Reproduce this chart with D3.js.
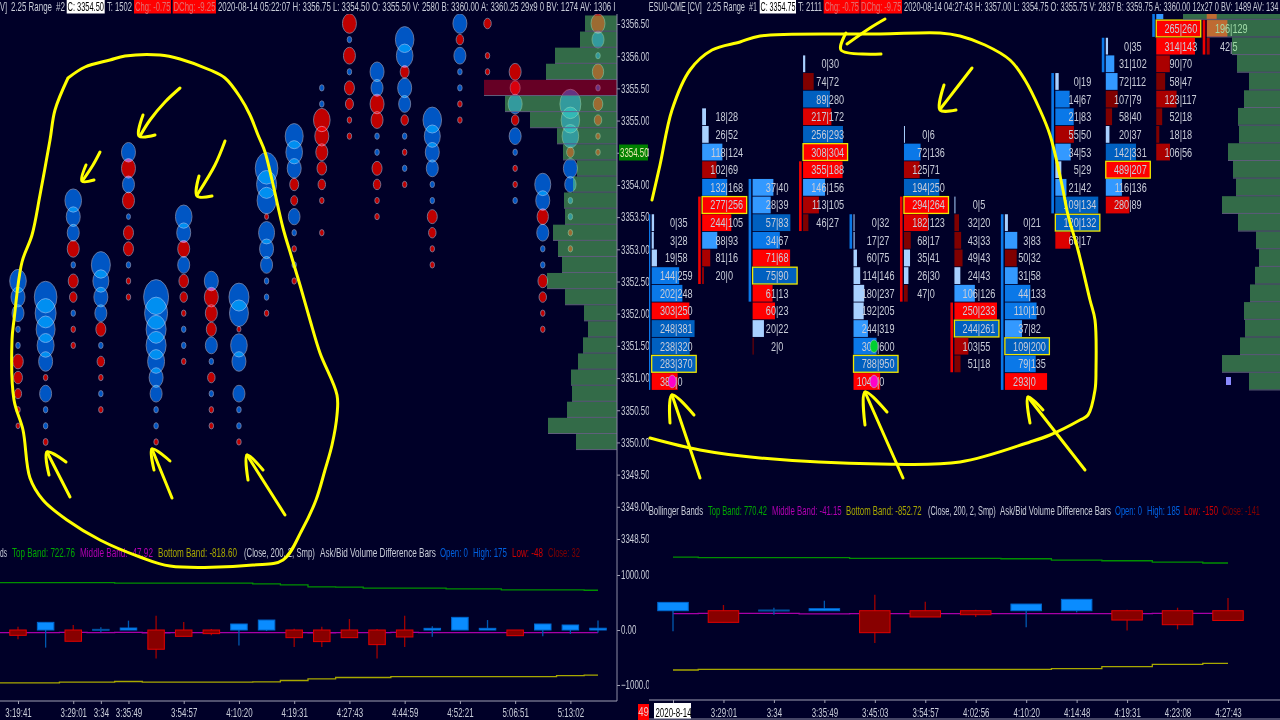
<!DOCTYPE html>
<html><head><meta charset="utf-8">
<script src="https://cdnjs.cloudflare.com/ajax/libs/d3/7.8.5/d3.min.js"></script>
<style>
html,body{margin:0;padding:0;background:#000028;overflow:hidden}
svg{display:block;filter:blur(.3px)}
text{font-family:"Liberation Sans",sans-serif;font-size:12px}
</style></head><body>
<script>
// ---------- LEFT PANEL DATA ----------
const leftColumns=[0,1,2,3,4,5,6,7,8,9,10,11,12,13,14,15,16,17,18,19,20,21];
const leftTickCols=[0,2,3,4,6,8,10,12,14,16,18,20];
const leftTickLabels=["3:19:41","3:29:01","3:34","3:35:49","3:54:57","4:10:20","4:19:31","4:27:43","4:44:59","4:52:21","5:06:51","5:13:02"];
const priceLabels=[3356.5,3356,3355.5,3355,3354.5,3354,3353.5,3353,3352.5,3352,3351.5,3351,3350.5,3350,3349.5,3349,3348.5];
// highest price of each bubble column, then signed volumes going down one 0.25 tick at a time (+ask blue, -bid red)
const bubbleTop=[3352.5,3352.25,3353.75,3352.75,3354.5,3352.25,3353.5,3352.5,3352.25,3354.25,3354.75,3355.5,3356.5,3355.75,3356.25,3355,3356.5,3356.5,3355.75,3354,3355.25,3356.5];
const bubbleVols=[
[69,49,36,5,5,-28,-20,-13,-5,-4],
[128,110,90,72,49,-5,36,5,5,-6],
[69,49,36,-36,5,-25,-14,5,-5,-5],
[90,64,49,36,-25,5,-14,-5,5,-5],
[49,-49,36,-36,4,-25,-25,5,-5,-5],
[156,132,100,100,72,49,36,5,5,-5],
[69,49,-36,36,-23,-14,-5,5,5,-5],
[49,-49,-36,-25,36,5,-14,5,-5,-5],
[100,90,-4,69,49,0,36,5,5,-5],
[128,100,90,-4,64,49,36,5,5,-5],
[81,69,49,-20,-12,34,5,-5,5,-5],
[5,5,-69,-49,-36,-23,-14,-5,0,-5],
[-49,5,-36,5,-25,-16,-5,-5],
[49,36,-49,-36,5,5,-25,-14,-5,-5],
[86,69,-20,49,36,-14,5,-5,5,-5],
[86,64,49,36,5,5,-25,-14,-5,-5],
[49,-14,36,5,5,-5,-5],
[-14,0,-5,-5],
[-36,-25,49,-14,36,5,-5,-5,5],
[64,49,-32,36,5,5,-23,-14,-5,-5],
[110,86,69,-14,49,32,5,5,-5,-5],
[-49,36,5,-32,5,-23,-14,-5,-5]];
// volume profile, top row at 3356.50 going down
const leftProfile=[32,37,62,71,133,112,87,60,54,40,44,53,52,64,59,55,70,52,33,29,34,39,46,45,50,69,41];
const leftProfilePoc=3355.5;
const leftClose=[-97,139,-205,12,36,-350,-115,-66,109,181,-139,-211,-139,-266,-127,30,230,30,-103,109,91,32];
const leftHigh=[60,139,90,48,170,260,145,18,109,181,24,60,199,18,260,66,230,181,0,109,91,175];
const leftLow=[-170,-320,-205,-42,0,-520,-115,-97,-284,-18,-308,-308,-139,-520,-308,-121,0,0,-103,-115,-72,-48];
// band values from one column before the first bar
const leftBandCols=[-1].concat(leftColumns);
const leftTop=[863,863,863,863,863,851,851,851,851,851,839,821,785,779,761,761,761,749,749,731,731,731,723];
const leftMid=[-48,-48,-48,-44,-46,-44,-50,-48,-46,-46,-48,-46,-50,-46,-48,-44,-48,-48,-48,-48,-48,-48,-48];
const leftBot=[-960,-960,-960,-948,-948,-936,-948,-948,-948,-948,-942,-918,-888,-864,-864,-846,-846,-846,-846,-846,-846,-828,-819];

// ---------- RIGHT PANEL DATA ----------
const rightTickLabels=["2020-8-14","3:29:01","3:34","3:35:49","3:45:03","3:54:57","4:02:56","4:10:20","4:14:48","4:19:31","4:23:08","4:27:43"];
const rightColumns=d3.range(12);
const footTop=[3353.25,3354.75,3353.75,3355.5,3353.25,3354.5,3353.5,3353.25,3355.25,3355.75,3356.25,3356.5];
const footBid=[
[0,3,19,144,202,303,248,238,283,380],
[18,26,118,102,132,277,244,88,81,20],
[37,28,57,34,71,75,61,60,20,2],
[0,74,89,217,256,308,355,146,113,46],
[0,17,60,114,180,192,244,300,788,1040],
[0,72,125,194,294,182,68,35,26,47],
[0,32,43,49,24,106,250,244,103,51],
[0,3,50,31,44,110,37,109,79,293],
[0,14,21,55,34,5,21,109,120,68],
[0,31,72,107,58,20,142,489,116,280],
[40,265,314,90,58,123,52,18,106],
[360,90,196,42]];
const footAsk=[
[35,28,58,259,248,250,381,320,370,0],
[28,52,124,69,168,256,105,93,16,0],
[40,39,83,67,68,90,13,23,22,0],
[30,72,280,172,293,304,188,156,105,27],
[32,27,75,146,237,205,319,600,950,0],
[6,136,71,250,264,123,17,41,30,0],
[5,20,33,43,43,126,233,261,55,18],
[21,83,32,58,133,110,82,200,135,0],
[19,67,83,50,53,29,42,134,132,17],
[35,102,112,79,40,37,331,207,136,89],
[43,260,143,70,47,117,18,18,56],
[339,67,129,5]];
const footShade=[
["p","p","p","b","b","R","d","d","d","R"],
["p","p","l","m","b","R","R","l","m","m"],
["l","l","d","b","R","d","R","R","p","k"],
["p","k","d","r","d","R","R","l","m","k"],
["p","p","p","p","p","p","l","b","d","R"],
["p","b","m","d","R","r","k","p","p","k"],
["p","k","k","k","p","l","R","d","m","k"],
["p","l","k","l","b","b","l","d","b","R"],
["p","b","b","m","l","p","l","d","d","r"],
["p","l","l","k","k","p","d","R","l","r"],
["l","R","R","m","k","m","k","k","m"],
["R","R","R","m"]];
const footBoxPrice=[3351.25,3353.5,3352.5,3354.25,3351.25,3353.5,3351.75,3351.5,3353.25,3354,3356,null];
const candleHi=[3353.25,3353.5,3353.75,3354,3353.25,3353.5,3352,3353.25,3355.25,3355.75,3356.25,3356];
const candleLo=[3351,3352.5,3352.25,3353.25,3353,3352.25,3351.25,3351,3353.5,3355.5,3356,3355.75];
const candleUp=[1,0,1,0,1,0,0,1,1,1,1,0];
const circleCol=[0,4,4];
const circlePrice=[3351,3351.5,3351];
const circleKind=["#ff00c8","#00d030","#ff00c8"];
// right volume profile, bottom row at 3351.00 going up
const rightProfile=[31,58,40,35,36,30,25,21,24,42,58,44,47,52,41,42,36,31,43,48,73,97];
const rightClose=[120,-168,10,29,-317,-91,-58,96,164,-135,-202,-141];
const rightHigh=[120,82,43,144,231,130,14,96,164,14,43,185];
const rightLow=[-298,-168,-58,0,-467,-91,-91,-240,-24,-284,-269,-150];
const rightTop=[774,765,765,765,755,755,755,750,731,721,702,688];
const rightMid=[-43,-40,-40,-46,-43,-43,-43,-43,-43,-43,-38,-38];
const rightBot=[-856,-847,-847,-847,-847,-847,-847,-847,-837,-808,-774,-760];

// ---------- HEADER TEXT ----------
const headerLeft=["V]","2.25 Range","#2","C: 3354.50","T: 1502","Chg: -0.75","DChg: -9.25","2020-08-14 05:22:07 H: 3356.75 L: 3354.50 O: 3355.50 V: 2580 B: 3360.00 A: 3360.25 29x9 0 BV: 1274 AV: 1306 I"];
const headerRight=["ESU0-CME [CV]","2.25 Range","#1","C: 3354.75","T: 2111","Chg: -0.75","DChg: -9.75","2020-08-14 04:27:43 H: 3357.00 L: 3354.75 O: 3355.75 V: 2837 B: 3359.75 A: 3360.00 12x27 0 BV: 1489 AV: 134"];
const legendLeft=["ds","Top Band: 722.76","Middle Band: -47.92","Bottom Band: -818.60","(Close, 200, 2, Smp)","Ask/Bid Volume Difference Bars","Open: 0","High: 175","Low: -48","Close: 32"];
const legendRight=["Bollinger Bands","Top Band: 770.42","Middle Band: -41.15","Bottom Band: -852.72","(Close, 200, 2, Smp)","Ask/Bid Volume Difference Bars","Open: 0","High: 185","Low: -150","Close: -141"];

// ---------- HAND-DRAWN ANNOTATION STROKES ----------
const inkLeftLoop=[[68,78],[85,67],[110,60],[125,56],[160,55],[180,59],[210,70],[225,78],[240,97],[250,115],[258,135],[265,152],[272,180],[283,228],[291,255],[300,285],[310,320],[320,353],[337,395],[337,415],[332,445],[325,470],[316,500],[302,530],[283,560],[253,565],[170,566],[140,557],[100,540],[67,520],[43,500],[30,478],[23,430],[14,400],[12,340],[14,320],[22,262],[32,235],[40,195],[50,140],[55,110],[68,78]];
const inkRightLoop=[[652,200],[660,165],[672,110],[690,70],[712,50],[740,42],[760,36],[880,34],[940,33],[960,36],[985,45],[1010,60],[1025,80],[1040,110],[1050,135],[1062,185],[1068,215],[1078,250],[1090,300],[1095,320],[1096,370],[1095,390],[1088,415],[1080,420],[1050,435],[1030,442],[960,462],[880,464],[760,458],[700,450],[650,438]];
const inkArrows=[
[[180,88],[165,102],[150,120],[140,136]],[[143,115],[139,136],[155,135]],
[[100,152],[93,165],[83,180]],[[86,165],[82,181],[94,180]],
[[225,141],[215,165],[197,195]],[[199,176],[197,196],[212,196]],
[[47,452],[70,497]],[[49,475],[47,452],[66,462]],
[[152,449],[172,498]],[[154,470],[152,449],[170,461]],
[[247,455],[285,515]],[[248,480],[247,455],[263,470]],
[[885,19],[870,28],[847,44]],[[846,33],[841,50],[881,54]],
[[972,68],[955,90],[941,108]],[[944,85],[940,110],[956,110]],
[[672,395],[700,478]],[[670,423],[672,395],[694,415]],
[[865,392],[903,478]],[[865,425],[865,392],[887,412]],
[[1028,397],[1085,470]],[[1030,423],[1028,397],[1043,410]]];

// ---------- SCALES ----------
const W=1280,H=720,BG="#000028";
const svg=d3.select("body").append("svg").attr("width",W).attr("height",H);
svg.append("rect").attr("width",W).attr("height",H).attr("fill",BG);
const defs=svg.append("defs");
const clip=(id,x,y,w,h)=>defs.append("clipPath").attr("id",id).append("rect").attr("x",x).attr("y",y).attr("width",w).attr("height",h);
clip("cl",0,14,617,690);clip("cr",649,14,631,690);clip("caxis",617,0,32,700);

const xL=d3.scaleLinear().domain([0,21]).range([18,598]);
const yP=d3.scaleLinear().domain([3356.5,3348.5]).range([23.5,538.5]);
const yAxisP=d3.scaleLinear().domain([3356.5,3348.5]).range([24,539]);
const rB=d3.scaleSqrt().domain([0,169]).range([0,13]);
const pW=d3.scaleLinear().domain([0,133]).range([0,133]);
const yLow=d3.scaleLinear().domain([1000,-1000]).range([575,685]);
const xR=d3.scaleLinear().domain([0,11]).range([673,1228]);
const yR=d3.scaleLinear().domain([3351,3356.25]).range([381.5,10.85]);
const yLowR=d3.scaleLinear().domain([1000,-1000]).range([541.4,680]);
const prW=d3.scaleLinear().domain([0,99]).range([0,99]);
const shade={p:"#a8d0ff",l:"#3399ff",b:"#0a78e8",d:"#0060c0",k:"#800000",m:"#aa0000",r:"#dc0000",R:"#ff0000"};
const TXT="#c8ccd8",TICK=0.25;
const AXIS_SX=.66,CELL_SX=.76;
function squeeze(sel,sx){
 sel.each(function(){
  const t=d3.select(this),x=+t.attr("x")||0;
  t.attr("x",x/sx).attr("transform","scale("+sx+",1)");
 });
}

// ---------- LEFT BUBBLES ----------
const gL=svg.append("g").attr("clip-path","url(#cl)");
const gBub=gL.append("g");
const bubbles=[];
bubbleVols.forEach((vs,c)=>vs.forEach((v,i)=>{if(v!==0)bubbles.push({c,v,p:bubbleTop[c]-i*TICK});}));
gBub.selectAll("ellipse").data(bubbles).join("ellipse")
 .attr("cx",d=>xL(d.c)).attr("cy",d=>yP(d.p))
 .attr("rx",d=>rB(Math.abs(d.v))).attr("ry",d=>rB(Math.abs(d.v))*1.4)
 .attr("fill",d=>d.v>0?"#0056c4":"#c00000")
 .attr("stroke","#7c84a4").attr("stroke-width",.8)
 .style("mix-blend-mode","screen");

// left profile
const rowH=16.09;
gL.selectAll("rect.pf").data(leftProfile).join("rect").attr("class","pf")
 .attr("x",d=>617-pW(d)).attr("width",d=>pW(d))
 .attr("y",(d,i)=>yP(3356.5-i*TICK)-rowH/2).attr("height",rowH-.7)
 .attr("fill",(d,i)=>3356.5-i*TICK===leftProfilePoc?"rgba(255,0,33,.4)":"rgba(112,237,110,.45)");
gL.selectAll("line.pfl").data(leftProfile).join("line").attr("class","pfl")
 .attr("x1",d=>617-pW(d)).attr("x2",617)
 .attr("y1",(d,i)=>yP(3356.5-i*TICK)+rowH/2-.4).attr("y2",(d,i)=>yP(3356.5-i*TICK)+rowH/2-.4)
 .attr("stroke","#6a6a86").attr("stroke-width",.9);

// ---------- AXES ----------
const gA=svg.append("g");
const ax=gA.append("g").attr("clip-path","url(#caxis)");
ax.append("g").attr("transform","translate(617,0)")
 .call(d3.axisRight(yAxisP).tickValues(priceLabels).tickSize(3).tickPadding(1).tickFormat(d3.format(".2f")));
ax.append("g").attr("transform","translate(617,0)")
 .call(d3.axisRight(yLow).tickValues([1000,0,-1000]).tickSize(3).tickPadding(1).tickFormat(d3.format(".2f")));
ax.selectAll(".domain").remove();
ax.selectAll("text").attr("fill",TXT);
squeeze(ax.selectAll("text"),AXIS_SX);
ax.selectAll("line").attr("stroke","#a0a0b4");
gA.append("line").attr("x1",617).attr("x2",617).attr("y1",13).attr("y2",701).attr("stroke","#8c8ca4").attr("stroke-width",1);
const axL=gA.append("g").attr("transform","translate(0,701)")
 .call(d3.axisBottom(xL).tickValues(leftTickCols).tickSize(3).tickPadding(4).tickFormat((d,i)=>leftTickLabels[i]));
axL.select(".domain").remove();
axL.selectAll("text").attr("fill",TXT);
squeeze(axL.selectAll("text"),AXIS_SX);
axL.selectAll("line").attr("stroke","#a0a0b4");
gA.append("line").attr("x1",0).attr("x2",617).attr("y1",701).attr("y2",701).attr("stroke","#a0a0b4");
const gp=gA.append("g");
gp.append("rect").attr("x",619).attr("y",144.5).attr("width",29).attr("height",16).attr("fill","#008000");
squeeze(gp.append("text").attr("x",620).attr("y",157).attr("fill","#e8e8b0").text("3354.50"),AXIS_SX);

// ---------- LOWER CANDLES ----------
function candles(g,cols,x,y,close,high,low,w){
 const cg=g.append("g").selectAll("g").data(cols).join("g");
 cg.append("line").attr("x1",c=>x(c)).attr("x2",c=>x(c)).attr("y1",(c,i)=>y(high[i])).attr("y2",(c,i)=>y(low[i]))
  .attr("stroke",(c,i)=>close[i]>=0?"#0058b0":"#a00000").attr("stroke-width",1.3);
 cg.append("rect").attr("x",c=>x(c)-w/2).attr("width",w)
  .attr("y",(c,i)=>y(Math.max(0,close[i]))).attr("height",(c,i)=>Math.max(1,Math.abs(y(close[i])-y(0))))
  .attr("fill",(c,i)=>close[i]>=0?(close[i]<15?"#0050a0":"#0a8cff"):"#880000")
  .attr("stroke",(c,i)=>close[i]>=0?(close[i]<15?"#0050a0":"#0068d0"):"#e00000").attr("stroke-width",1);
}
function bands(g,cols,x,y,arr,color,curve){
 const ln=d3.line().x((d,i)=>x(cols[i])).y(d=>y(d)).curve(curve);
 g.append("path").attr("d",ln(arr)).attr("fill","none").attr("stroke",color).attr("stroke-width",1.3);
}
const gLow=svg.append("g");
bands(gLow,leftBandCols,xL,yLow,leftTop,"#009000",d3.curveStep);
bands(gLow,leftBandCols,xL,yLow,leftMid,"#a800a8",d3.curveStep);
bands(gLow,leftBandCols,xL,yLow,leftBot,"#a8a800",d3.curveStep);
candles(gLow,leftColumns,xL,yLow,leftClose,leftHigh,leftLow,16.5);

// ---------- RIGHT PANEL ----------
svg.append("rect").attr("x",649).attr("y",0).attr("width",631).attr("height",720).attr("fill",BG);
const gR=svg.append("g").attr("clip-path","url(#cr)");
const cellH=16.8;
rightColumns.forEach(c=>{
 const bids=footBid[c],asks=footAsk[c];
 const maxTot=d3.max(bids,(b,i)=>b+asks[i]);
 const w=d3.scaleLinear().domain([0,maxTot]).range([0,44.5]);
 const left=xR(c)-21.3,sep=left+24.2;
 const rows=bids.map((b,i)=>({b,a:asks[i],s:footShade[c][i],p:footTop[c]-i*TICK}));
 const visible=rows.filter(d=>d.p<=3356);
 const g=gR.append("g");
 g.append("rect").attr("x",left-4).attr("width",2.6)
  .attr("y",yR(candleHi[c])-cellH/2).attr("height",yR(candleLo[c])-yR(candleHi[c])+cellH)
  .attr("fill",candleUp[c]?"#0a78e8":"#f00000");
 g.selectAll("rect.cell").data(rows).join("rect").attr("class","cell")
  .attr("x",left).attr("y",d=>yR(d.p)-cellH/2).attr("height",cellH)
  .attr("width",d=>d.p===footBoxPrice[c]?44.5:Math.max(1,w(d.b+d.a)))
  .attr("fill",d=>shade[d.s])
  .attr("stroke",d=>d.p===footBoxPrice[c]?"#f0e800":"none").attr("stroke-width",1.3);
 squeeze(g.selectAll("text.bid").data(visible).join("text").attr("class","bid")
  .attr("x",sep-.8).attr("y",d=>yR(d.p)+4.5).attr("text-anchor","end").attr("fill",TXT).text(d=>d.b),CELL_SX);
 squeeze(g.selectAll("text.ask").data(visible).join("text").attr("class","ask")
  .attr("x",sep-.8).attr("y",d=>yR(d.p)+4.5).attr("fill",TXT).text(d=>"|"+d.a),CELL_SX);
});
gR.selectAll("ellipse.mk").data(circleCol).join("ellipse").attr("class","mk")
 .attr("cx",c=>xR(c)-.8).attr("cy",(c,i)=>yR(circlePrice[i])).attr("rx",4).attr("ry",6.3)
 .attr("fill",(c,i)=>circleKind[i]).attr("stroke","#b0c0d0").attr("stroke-width",.6);
const rH=17.65;
gR.selectAll("rect.rp").data(rightProfile).join("rect").attr("class","rp")
 .attr("x",d=>1280-prW(d)).attr("width",d=>prW(d))
 .attr("y",(d,i)=>yR(3351.0+i*TICK)-rH/2).attr("height",rH-.8)
 .attr("fill","rgba(112,237,110,.45)");
gR.selectAll("line.rpl").data(rightProfile).join("line").attr("class","rpl")
 .attr("x1",d=>1280-prW(d)).attr("x2",1280)
 .attr("y1",(d,i)=>yR(3351.0+i*TICK)+rH/2-.4).attr("y2",(d,i)=>yR(3351.0+i*TICK)+rH/2-.4)
 .attr("stroke","#6a6a86").attr("stroke-width",.9);
svg.append("rect").attr("x",1226).attr("y",377).attr("width",5).attr("height",8).attr("fill","#8a8aff");

// right lower
const gLowR=svg.append("g");
bands(gLowR,rightColumns,xR,yLowR,rightTop,"#009000",d3.curveStep);
bands(gLowR,rightColumns,xR,yLowR,rightMid,"#a800a8",d3.curveStep);
bands(gLowR,rightColumns,xR,yLowR,rightBot,"#a8a800",d3.curveStep);
candles(gLowR,rightColumns,xR,yLowR,rightClose,rightHigh,rightLow,30.5);
const axR=svg.append("g").attr("transform","translate(0,700)")
 .call(d3.axisBottom(xR).tickValues(rightColumns).tickSize(3).tickPadding(5).tickFormat((d,i)=>rightTickLabels[i]));
axR.select(".domain").remove();
axR.selectAll("text").attr("fill",TXT);
axR.selectAll("line").attr("stroke","#a0a0b4");
svg.append("line").attr("x1",649).attr("x2",1280).attr("y1",700).attr("y2",700).attr("stroke","#a0a0b4");
svg.append("line").attr("x1",649).attr("x2",1280).attr("y1",719).attr("y2",719).attr("stroke","#8c8ca4");
svg.append("rect").attr("x",654).attr("y",703).attr("width",37).attr("height",15.5).attr("fill","#fff");
axR.selectAll(".tick text").filter((d,i)=>i===0).attr("fill","#000");
axR.raise();
squeeze(axR.selectAll("text"),AXIS_SX);
svg.append("rect").attr("x",638).attr("y",704).attr("width",11).attr("height",16).attr("fill","#ff0000");
squeeze(svg.append("text").attr("x",643.5).attr("y",716).attr("text-anchor","middle").attr("fill","#f0c0c0").text("49"),.8);

// ---------- HEADER & LEGEND TEXT ----------
function seg(t,x0,x1,y,color){
 const e=svg.append("text").attr("fill",color).text(t);
 const sx=(x1-x0)/e.node().getComputedTextLength();
 e.attr("transform","translate("+x0+","+y+") scale("+sx+",1)");
}
function box(x0,x1,fill){svg.append("rect").attr("x",x0).attr("y",0).attr("width",x1-x0).attr("height",13.5).attr("fill",fill);}
svg.append("rect").attr("x",0).attr("y",0).attr("width",W).attr("height",14).attr("fill",BG);
const HY=10.5;
box(66.7,104.7,"#fff");box(134,171,"#ff0000");box(172.7,216,"#ff0000");
[[0,7,TXT],[11,52,TXT],[56,65,TXT],[67.5,104,"#000"],[107,132,TXT],[135,170.5,"#e07070"],[173.5,215.5,"#e07070"],[218,616,TXT]]
 .forEach((s,i)=>seg(headerLeft[i],s[0],s[1],HY,s[2]));
box(759.7,796,"#fff");box(823.7,859.7,"#ff0000");box(860.3,902,"#ff0000");
[[648.7,702,TXT],[706.7,745,TXT],[749,757,TXT],[760.5,795.5,"#000"],[798,822,TXT],[824.5,859,"#e07070"],[861,901.5,"#e07070"],[904,1279,TXT]]
 .forEach((s,i)=>seg(headerRight[i],s[0],s[1],HY,s[2]));
const LC=[TXT,"#00a800","#b000b0","#a8a800",TXT,TXT,"#0060e0","#0060e0","#d00000","#800000"];
[[0,7],[12,75],[80,153],[158,237],[244,315],[320,436],[440,468],[473,507],[512,543],[548,580]]
 .forEach((s,i)=>seg(legendLeft[i],s[0],s[1],557,LC[i]));
[[648.7,703],[708,767],[772,841.7],[846,921.7],[928,995.7],[1000,1111],[1115,1142],[1147,1180],[1184,1218],[1222,1260]]
 .forEach((s,i)=>seg(legendRight[i],s[0],s[1],515,LC[i]));

// ---------- INK ----------
const ink=svg.append("g").attr("fill","none").attr("stroke","#ffff00").attr("stroke-width",3).attr("stroke-linecap","round").attr("stroke-linejoin","round");
const inkLine=d3.line().curve(d3.curveCatmullRom.alpha(.5));
ink.selectAll("path.loop").data([inkLeftLoop,inkRightLoop]).join("path").attr("class","loop").attr("d",inkLine);
ink.selectAll("path.arrow").data(inkArrows).join("path").attr("class","arrow").attr("d",inkLine);
</script>
</body></html>
